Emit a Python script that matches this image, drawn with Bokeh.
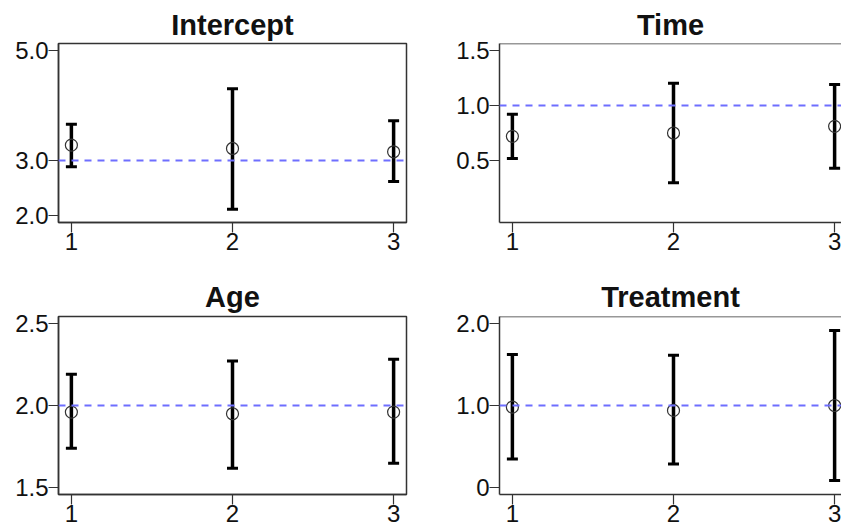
from bokeh.plotting import figure
from bokeh.layouts import column, row
from bokeh.models import Range1d, FixedTicker, Span, Whisker, TeeHead, ColumnDataSource
from bokeh.embed import file_html
from bokeh.resources import INLINE

# ---- data ----
terms = ["Intercept", "Time", "Age", "Treatment"]
models = [1, 2, 3]

intercept_est = [3.28, 3.22, 3.16]
intercept_lower = [2.89, 2.12, 2.62]
intercept_upper = [3.66, 4.30, 3.72]

time_est = [0.72, 0.75, 0.81]
time_lower = [0.52, 0.30, 0.43]
time_upper = [0.92, 1.20, 1.19]

age_est = [1.96, 1.95, 1.96]
age_lower = [1.74, 1.62, 1.65]
age_upper = [2.19, 2.27, 2.28]

treatment_est = [0.98, 0.94, 1.00]
treatment_lower = [0.35, 0.29, 0.09]
treatment_upper = [1.62, 1.61, 1.91]

reference_values = [3.0, 1.0, 2.0, 1.0]

y_limits = [[2.0, 5.0], [0.0, 1.5], [1.5, 2.5], [0.0, 2.0]]
y_ticks = [[2, 3, 5], [0.5, 1, 1.5], [1.5, 2, 2.5], [0, 1, 2]]
y_tick_labels = [["2.0", "3.0", "5.0"], ["0.5", "1.0", "1.5"],
                 ["1.5", "2.0", "2.5"], ["0", "1.0", "2.0"]]
x_tick_labels = ["1", "2", "3"]

estimates = [intercept_est, time_est, age_est, treatment_est]
lowers = [intercept_lower, time_lower, age_lower, treatment_lower]
uppers = [intercept_upper, time_upper, age_upper, treatment_upper]

FONT = "Liberation Sans"
X_LO, X_HI = 0.92, 3.08
LEFT_FRAME_W = 420 - 58 - 14


def make_panel(i, left_col, top_row):
    width = 420 if left_col else 421
    height = 265 if top_row else 266
    mbl = 58 if left_col else 79
    mbr = 14 if left_col else 0
    mbt = 43 if top_row else 51
    mbb = 43 if top_row else 37
    frame_w = width - mbl - mbr
    x_end = X_LO + frame_w * (X_HI - X_LO) / LEFT_FRAME_W

    lo, hi = y_limits[i]
    pad = 0.04 * (hi - lo)
    p = figure(width=width, height=height, output_backend="svg", toolbar_location=None,
               x_range=Range1d(X_LO, x_end), y_range=Range1d(lo - pad, hi + pad),
               min_border_left=mbl, min_border_right=mbr,
               min_border_top=mbt, min_border_bottom=mbb)
    p.grid.visible = False
    p.background_fill_color = "white"
    p.border_fill_color = "white"

    if left_col:
        p.outline_line_color = "#333333"
        p.outline_line_width = 1.5
    else:
        p.outline_line_color = None
        p.add_layout(Span(location=hi + pad, dimension="width",
                          line_color="#333333", line_width=1.5))

    p.title.text = terms[i]
    p.title.align = "center"
    p.title.text_font = FONT
    p.title.text_font_style = "bold"
    p.title.text_font_size = "29px"
    p.title.text_color = "#111111"
    p.title.standoff = 5 if top_row else 8

    p.xaxis.ticker = FixedTicker(ticks=models)
    p.xaxis.major_label_overrides = {m: l for m, l in zip(models, x_tick_labels)}
    p.yaxis.ticker = FixedTicker(ticks=y_ticks[i])
    p.yaxis.major_label_overrides = {t: l for t, l in zip(y_ticks[i], y_tick_labels[i])}
    for ax in (p.xaxis, p.yaxis):
        ax.axis_line_color = "#333333"
        ax.axis_line_width = 1.5
        ax.major_tick_line_color = "#333333"
        ax.major_tick_line_width = 1.2
        ax.major_tick_in = 0
        ax.major_tick_out = 10
        ax.minor_tick_line_color = None
        ax.major_label_text_font = FONT
        ax.major_label_text_font_size = "24px"
        ax.major_label_text_color = "#111111"
        ax.major_label_standoff = 0

    p.add_layout(Span(location=reference_values[i], dimension="width",
                      line_color="#6e6eff", line_dash="7 6", line_width=2))

    src = ColumnDataSource(dict(x=models, est=estimates[i], lower=lowers[i], upper=uppers[i]))
    p.add_layout(Whisker(base="x", lower="lower", upper="upper", source=src,
                         line_color="black", line_width=3.5,
                         upper_head=TeeHead(size=11, line_width=3, line_color="black"),
                         lower_head=TeeHead(size=11, line_width=3, line_color="black")))
    p.scatter("x", "est", source=src, marker="circle", size=12,
              fill_color=None, line_color="#333333", line_width=1.2)
    return p


p1 = make_panel(0, True, True)
p2 = make_panel(1, False, True)
p3 = make_panel(2, True, False)
p4 = make_panel(3, False, False)

layout = column(row(p1, p2), row(p3, p4))
open("out.html", "w").write(file_html(layout, INLINE))
